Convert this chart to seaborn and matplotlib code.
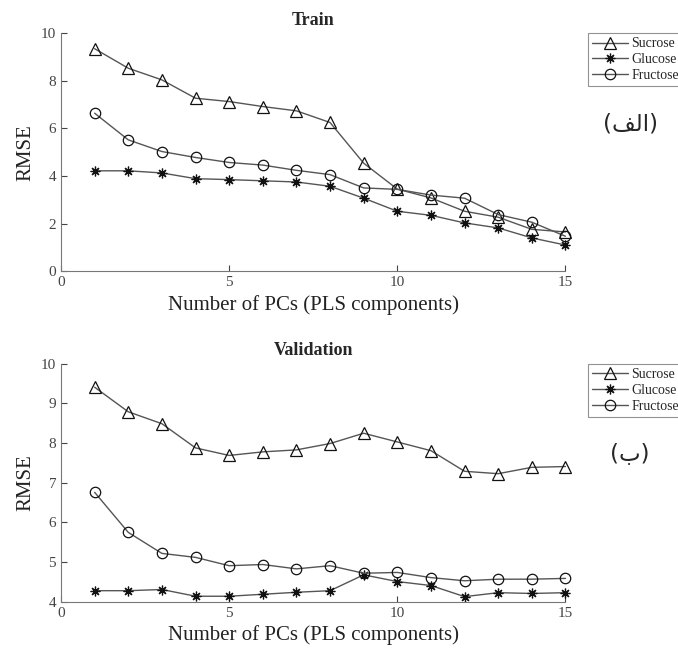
import matplotlib
matplotlib.use("Agg")
import matplotlib.pyplot as plt
import pandas as pd
import seaborn as sns

# Number of PLS components
pcs = list(range(1, 16))

# Train RMSE
train_sucrose = [9.35, 8.53, 8.04, 7.27, 7.13, 6.92, 6.74, 6.25, 4.54, 3.45, 3.08, 2.52, 2.27, 1.76, 1.65]
train_glucose = [4.22, 4.22, 4.13, 3.89, 3.85, 3.80, 3.75, 3.57, 3.07, 2.52, 2.35, 2.03, 1.82, 1.40, 1.10]
train_fructose = [6.64, 5.52, 5.03, 4.78, 4.57, 4.46, 4.24, 4.06, 3.50, 3.44, 3.20, 3.07, 2.38, 2.06, 1.47]

# Validation RMSE
val_sucrose = [9.41, 8.79, 8.49, 7.88, 7.69, 7.78, 7.83, 7.99, 8.25, 8.03, 7.81, 7.29, 7.23, 7.39, 7.41]
val_glucose = [4.28, 4.28, 4.31, 4.14, 4.14, 4.19, 4.24, 4.28, 4.68, 4.51, 4.41, 4.13, 4.23, 4.21, 4.23]
val_fructose = [6.76, 5.75, 5.22, 5.12, 4.91, 4.94, 4.83, 4.91, 4.72, 4.74, 4.61, 4.53, 4.57, 4.57, 4.59]

sugars = ["Sucrose", "Glucose", "Fructose"]
markers = {"Sucrose": "^", "Glucose": (8, 2, 0), "Fructose": "o"}
msizes = {"Sucrose": 9, "Glucose": 7, "Fructose": 7.5}

sns.set_style("ticks")
plt.rcParams["font.family"] = ["Liberation Serif", "DejaVu Serif"]

fig = plt.figure(figsize=(6.78, 6.52), dpi=100)
ax_top = fig.add_axes([0.090, 0.584, 0.744, 0.365])
ax_bot = fig.add_axes([0.090, 0.077, 0.744, 0.365])


def draw(ax, series, title, ylim, yticks, tag):
    df = pd.DataFrame({"PC": pcs * 3,
                       "RMSE": series[0] + series[1] + series[2],
                       "sugar": [s for s in sugars for _ in pcs]})
    for s in sugars:
        d = df[df["sugar"] == s]
        sns.lineplot(data=d, x="PC", y="RMSE", ax=ax, color="#555555", lw=1.0,
                     marker=markers[s], markersize=msizes[s], markerfacecolor="none",
                     markeredgecolor="#111111", markeredgewidth=0.9, label=s,
                     clip_on=False)
    ax.set_xlim(0, 15)
    ax.set_ylim(*ylim)
    ax.set_xticks([0, 5, 10, 15])
    ax.set_yticks(yticks)
    ax.tick_params(direction="in", labelsize=11, colors="#444444", length=4)
    for side in ["left", "bottom"]:
        ax.spines[side].set_color("#777777")
    sns.despine(ax=ax)
    ax.set_title(title, fontsize=13, fontweight="bold", pad=6)
    ax.set_xlabel("Number of PCs (PLS components)", fontsize=15, color="#222222")
    ax.set_ylabel("RMSE", fontsize=15, color="#222222")
    leg = ax.legend(loc="upper left", bbox_to_anchor=(1.044, 1.0), fontsize=10,
                    frameon=True, fancybox=False, edgecolor="#777777",
                    handlelength=2.6, handletextpad=0.25, borderpad=0.3,
                    labelspacing=0.2, borderaxespad=0)
    leg.get_frame().set_linewidth(0.8)
    ax.text(1.128, 0.62, tag, transform=ax.transAxes, fontsize=16.5,
            family=["DejaVu Sans"], ha="center", va="center")


# presentation forms in visual order: (الف) and (ب)
draw(ax_top, [train_sucrose, train_glucose, train_fructose], "Train",
     (0, 10), [0, 2, 4, 6, 8, 10], "(\ufed2\ufedf\ufe8d)")
draw(ax_bot, [val_sucrose, val_glucose, val_fructose], "Validation",
     (4, 10), [4, 5, 6, 7, 8, 9, 10], "(\ufe8f)")

fig.savefig("out.png", dpi=100)
